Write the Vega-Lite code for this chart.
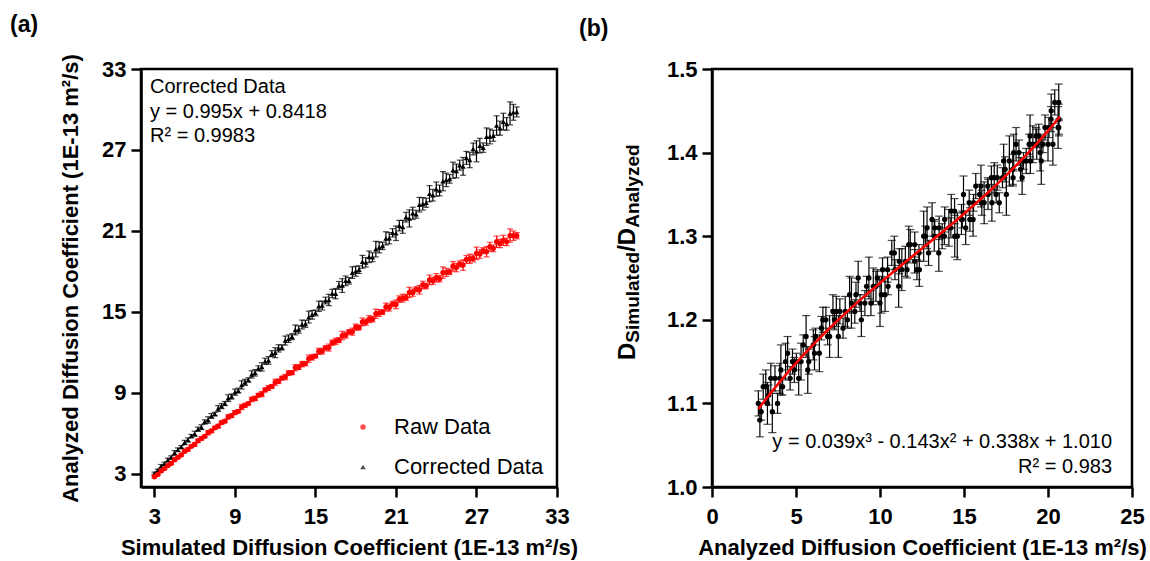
{
"$schema": "https://vega.github.io/schema/vega-lite/v6.json",
"background": "white",
"padding": {"left": 8, "top": 12, "right": 0, "bottom": 0},
"bounds": "flush",
"spacing": 155,
"config": {
  "font": "Liberation Sans",
  "view": {"stroke": "black", "strokeWidth": 2.5},
  "axis": {"domainColor": "black", "domainWidth": 2.5, "tickColor": "black", "tickWidth": 2.5, "tickSize": 10, "labelFont": "Liberation Sans", "labelFontSize": 22, "labelFontWeight": "bold", "labelColor": "black", "titleFont": "Liberation Sans", "titleFontSize": 22, "titleFontWeight": "bold", "titleColor": "black", "grid": false, "labelFlush": false, "labelOverlap": false},
  "axisX": {"labelPadding": 9, "titlePadding": 10},
  "axisY": {"labelPadding": 5, "titlePadding": 16},
  "legend": {"padding": 0}
},
"datasets": {
"a": [
{"s":3,"g":"Corrected Data","v":3.00,"e":0.10},{"s":3.25,"g":"Corrected Data","v":3.23,"e":0.09},{"s":3.5,"g":"Corrected Data","v":3.54,"e":0.13},{"s":3.75,"g":"Corrected Data","v":3.73,"e":0.11},{"s":4,"g":"Corrected Data","v":4.01,"e":0.13},{"s":4.25,"g":"Corrected Data","v":4.20,"e":0.11},{"s":4.5,"g":"Corrected Data","v":4.53,"e":0.17},{"s":4.75,"g":"Corrected Data","v":4.76,"e":0.14},{"s":5,"g":"Corrected Data","v":4.97,"e":0.10},{"s":5.25,"g":"Corrected Data","v":5.30,"e":0.16},
{"s":5.5,"g":"Corrected Data","v":5.49,"e":0.15},{"s":5.75,"g":"Corrected Data","v":5.78,"e":0.12},{"s":6,"g":"Corrected Data","v":5.95,"e":0.19},{"s":6.25,"g":"Corrected Data","v":6.29,"e":0.15},{"s":6.5,"g":"Corrected Data","v":6.44,"e":0.18},{"s":6.75,"g":"Corrected Data","v":6.83,"e":0.15},{"s":7,"g":"Corrected Data","v":6.97,"e":0.24},{"s":7.25,"g":"Corrected Data","v":7.27,"e":0.18},{"s":7.5,"g":"Corrected Data","v":7.41,"e":0.13},{"s":7.75,"g":"Corrected Data","v":7.82,"e":0.22},
{"s":8,"g":"Corrected Data","v":8.00,"e":0.19},{"s":8.25,"g":"Corrected Data","v":8.19,"e":0.15},{"s":8.5,"g":"Corrected Data","v":8.59,"e":0.25},{"s":8.75,"g":"Corrected Data","v":8.71,"e":0.19},{"s":9,"g":"Corrected Data","v":9.03,"e":0.23},{"s":9.25,"g":"Corrected Data","v":9.15,"e":0.18},{"s":9.5,"g":"Corrected Data","v":9.57,"e":0.31},{"s":9.75,"g":"Corrected Data","v":9.76,"e":0.23},{"s":10,"g":"Corrected Data","v":9.94,"e":0.16},{"s":10.25,"g":"Corrected Data","v":10.35,"e":0.27},
{"s":10.5,"g":"Corrected Data","v":10.47,"e":0.24},{"s":10.75,"g":"Corrected Data","v":10.80,"e":0.19},{"s":11,"g":"Corrected Data","v":10.91,"e":0.31},{"s":11.25,"g":"Corrected Data","v":11.32,"e":0.23},{"s":11.5,"g":"Corrected Data","v":11.39,"e":0.28},{"s":11.75,"g":"Corrected Data","v":11.89,"e":0.22},{"s":12,"g":"Corrected Data","v":11.96,"e":0.37},{"s":12.25,"g":"Corrected Data","v":12.28,"e":0.27},{"s":12.5,"g":"Corrected Data","v":12.35,"e":0.19},{"s":12.75,"g":"Corrected Data","v":12.86,"e":0.33},
{"s":13,"g":"Corrected Data","v":13.00,"e":0.28},{"s":13.25,"g":"Corrected Data","v":13.15,"e":0.22},{"s":13.5,"g":"Corrected Data","v":13.65,"e":0.37},{"s":13.75,"g":"Corrected Data","v":13.68,"e":0.27},{"s":14,"g":"Corrected Data","v":14.05,"e":0.33},{"s":14.25,"g":"Corrected Data","v":14.10,"e":0.26},{"s":14.5,"g":"Corrected Data","v":14.60,"e":0.44},{"s":14.75,"g":"Corrected Data","v":14.77,"e":0.32},{"s":15,"g":"Corrected Data","v":14.91,"e":0.21},{"s":15.25,"g":"Corrected Data","v":15.40,"e":0.38},
{"s":15.5,"g":"Corrected Data","v":15.46,"e":0.33},{"s":15.75,"g":"Corrected Data","v":15.83,"e":0.25},{"s":16,"g":"Corrected Data","v":15.87,"e":0.42},{"s":16.25,"g":"Corrected Data","v":16.35,"e":0.31},{"s":16.5,"g":"Corrected Data","v":16.34,"e":0.38},{"s":16.75,"g":"Corrected Data","v":16.95,"e":0.29},{"s":17,"g":"Corrected Data","v":16.94,"e":0.51},{"s":17.25,"g":"Corrected Data","v":17.29,"e":0.36},{"s":17.5,"g":"Corrected Data","v":17.29,"e":0.24},{"s":17.75,"g":"Corrected Data","v":17.90,"e":0.43},
{"s":18,"g":"Corrected Data","v":18.00,"e":0.37},{"s":18.25,"g":"Corrected Data","v":18.12,"e":0.28},{"s":18.5,"g":"Corrected Data","v":18.70,"e":0.48},{"s":18.75,"g":"Corrected Data","v":18.66,"e":0.35},{"s":19,"g":"Corrected Data","v":19.07,"e":0.43},{"s":19.25,"g":"Corrected Data","v":19.04,"e":0.33},{"s":19.5,"g":"Corrected Data","v":19.64,"e":0.58},{"s":19.75,"g":"Corrected Data","v":19.77,"e":0.41},{"s":20,"g":"Corrected Data","v":19.88,"e":0.27},{"s":20.25,"g":"Corrected Data","v":20.44,"e":0.49},
{"s":20.5,"g":"Corrected Data","v":20.45,"e":0.42},{"s":20.75,"g":"Corrected Data","v":20.85,"e":0.31},{"s":21,"g":"Corrected Data","v":20.82,"e":0.54},{"s":21.25,"g":"Corrected Data","v":21.38,"e":0.39},{"s":21.5,"g":"Corrected Data","v":21.29,"e":0.48},{"s":21.75,"g":"Corrected Data","v":22.01,"e":0.36},{"s":22,"g":"Corrected Data","v":21.92,"e":0.64},{"s":22.25,"g":"Corrected Data","v":22.30,"e":0.45},{"s":22.5,"g":"Corrected Data","v":22.23,"e":0.29},{"s":22.75,"g":"Corrected Data","v":22.94,"e":0.54},
{"s":23,"g":"Corrected Data","v":23.00,"e":0.46},{"s":23.25,"g":"Corrected Data","v":23.08,"e":0.34},{"s":23.5,"g":"Corrected Data","v":23.75,"e":0.60},{"s":23.75,"g":"Corrected Data","v":23.64,"e":0.43},{"s":24,"g":"Corrected Data","v":24.09,"e":0.53},{"s":24.25,"g":"Corrected Data","v":23.99,"e":0.40},{"s":24.5,"g":"Corrected Data","v":24.68,"e":0.71},{"s":24.75,"g":"Corrected Data","v":24.78,"e":0.50},{"s":25,"g":"Corrected Data","v":24.85,"e":0.32},{"s":25.25,"g":"Corrected Data","v":25.49,"e":0.60},
{"s":25.5,"g":"Corrected Data","v":25.44,"e":0.51},{"s":25.75,"g":"Corrected Data","v":25.87,"e":0.37},{"s":26,"g":"Corrected Data","v":25.78,"e":0.66},{"s":26.25,"g":"Corrected Data","v":26.41,"e":0.48},{"s":26.5,"g":"Corrected Data","v":26.25,"e":0.57},{"s":26.75,"g":"Corrected Data","v":27.07,"e":0.44},{"s":27,"g":"Corrected Data","v":26.90,"e":0.78},{"s":27.25,"g":"Corrected Data","v":27.32,"e":0.54},{"s":27.5,"g":"Corrected Data","v":27.17,"e":0.35},{"s":27.75,"g":"Corrected Data","v":27.98,"e":0.65},
{"s":28,"g":"Corrected Data","v":28.00,"e":0.55},{"s":28.25,"g":"Corrected Data","v":28.05,"e":0.41},{"s":28.5,"g":"Corrected Data","v":28.81,"e":0.72},{"s":28.75,"g":"Corrected Data","v":28.61,"e":0.52},{"s":29,"g":"Corrected Data","v":29.10,"e":0.62},{"s":29.25,"g":"Corrected Data","v":28.93,"e":0.47},{"s":29.5,"g":"Corrected Data","v":29.71,"e":0.85},{"s":29.75,"g":"Corrected Data","v":29.79,"e":0.59},{"s":30,"g":"Corrected Data","v":29.82,"e":0.37},
{"s":3,"g":"Raw Data","v":2.76,"e":0.08},{"s":3.25,"g":"Raw Data","v":2.93,"e":0.07},{"s":3.5,"g":"Raw Data","v":3.20,"e":0.10},{"s":3.75,"g":"Raw Data","v":3.37,"e":0.08},{"s":4,"g":"Raw Data","v":3.59,"e":0.09},{"s":4.25,"g":"Raw Data","v":3.75,"e":0.08},{"s":4.5,"g":"Raw Data","v":4.03,"e":0.12},{"s":4.75,"g":"Raw Data","v":4.20,"e":0.10},{"s":5,"g":"Raw Data","v":4.38,"e":0.08},{"s":5.25,"g":"Raw Data","v":4.65,"e":0.11},
{"s":5.5,"g":"Raw Data","v":4.79,"e":0.11},{"s":5.75,"g":"Raw Data","v":5.02,"e":0.09},{"s":6,"g":"Raw Data","v":5.16,"e":0.13},{"s":6.25,"g":"Raw Data","v":5.43,"e":0.11},{"s":6.5,"g":"Raw Data","v":5.60,"e":0.12},{"s":6.75,"g":"Raw Data","v":5.76,"e":0.10},{"s":7,"g":"Raw Data","v":6.03,"e":0.16},{"s":7.25,"g":"Raw Data","v":6.16,"e":0.12},{"s":7.5,"g":"Raw Data","v":6.39,"e":0.10},{"s":7.75,"g":"Raw Data","v":6.51,"e":0.14},
{"s":8,"g":"Raw Data","v":6.78,"e":0.13},{"s":8.25,"g":"Raw Data","v":6.88,"e":0.11},{"s":8.5,"g":"Raw Data","v":7.20,"e":0.16},{"s":8.75,"g":"Raw Data","v":7.29,"e":0.13},{"s":9,"g":"Raw Data","v":7.52,"e":0.15},{"s":9.25,"g":"Raw Data","v":7.61,"e":0.12},{"s":9.5,"g":"Raw Data","v":7.93,"e":0.19},{"s":9.75,"g":"Raw Data","v":8.06,"e":0.15},{"s":10,"g":"Raw Data","v":8.19,"e":0.11},{"s":10.25,"g":"Raw Data","v":8.50,"e":0.17},
{"s":10.5,"g":"Raw Data","v":8.57,"e":0.16},{"s":10.75,"g":"Raw Data","v":8.81,"e":0.13},{"s":11,"g":"Raw Data","v":8.89,"e":0.19},{"s":11.25,"g":"Raw Data","v":9.20,"e":0.15},{"s":11.5,"g":"Raw Data","v":9.34,"e":0.18},{"s":11.75,"g":"Raw Data","v":9.46,"e":0.14},{"s":12,"g":"Raw Data","v":9.76,"e":0.23},{"s":12.25,"g":"Raw Data","v":9.84,"e":0.17},{"s":12.5,"g":"Raw Data","v":10.08,"e":0.13},{"s":12.75,"g":"Raw Data","v":10.15,"e":0.20},
{"s":13,"g":"Raw Data","v":10.45,"e":0.18},{"s":13.25,"g":"Raw Data","v":10.48,"e":0.14},{"s":13.5,"g":"Raw Data","v":10.85,"e":0.23},{"s":13.75,"g":"Raw Data","v":10.89,"e":0.17},{"s":14,"g":"Raw Data","v":11.11,"e":0.20},{"s":14.25,"g":"Raw Data","v":11.15,"e":0.16},{"s":14.5,"g":"Raw Data","v":11.51,"e":0.27},{"s":14.75,"g":"Raw Data","v":11.61,"e":0.20},{"s":15,"g":"Raw Data","v":11.71,"e":0.14},{"s":15.25,"g":"Raw Data","v":12.06,"e":0.23},
{"s":15.5,"g":"Raw Data","v":12.07,"e":0.21},{"s":15.75,"g":"Raw Data","v":12.32,"e":0.16},{"s":16,"g":"Raw Data","v":12.34,"e":0.26},{"s":16.25,"g":"Raw Data","v":12.70,"e":0.20},{"s":16.5,"g":"Raw Data","v":12.80,"e":0.23},{"s":16.75,"g":"Raw Data","v":12.89,"e":0.18},{"s":17,"g":"Raw Data","v":13.23,"e":0.31},{"s":17.25,"g":"Raw Data","v":13.26,"e":0.22},{"s":17.5,"g":"Raw Data","v":13.50,"e":0.16},{"s":17.75,"g":"Raw Data","v":13.52,"e":0.26},
{"s":18,"g":"Raw Data","v":13.85,"e":0.23},{"s":18.25,"g":"Raw Data","v":13.83,"e":0.18},{"s":18.5,"g":"Raw Data","v":14.24,"e":0.29},{"s":18.75,"g":"Raw Data","v":14.22,"e":0.22},{"s":19,"g":"Raw Data","v":14.45,"e":0.26},{"s":19.25,"g":"Raw Data","v":14.44,"e":0.20},{"s":19.5,"g":"Raw Data","v":14.85,"e":0.34},{"s":19.75,"g":"Raw Data","v":14.90,"e":0.25},{"s":20,"g":"Raw Data","v":14.97,"e":0.17},{"s":20.25,"g":"Raw Data","v":15.35,"e":0.29},
{"s":20.5,"g":"Raw Data","v":15.31,"e":0.26},{"s":20.75,"g":"Raw Data","v":15.57,"e":0.20},{"s":21,"g":"Raw Data","v":15.54,"e":0.32},{"s":21.25,"g":"Raw Data","v":15.93,"e":0.24},{"s":21.5,"g":"Raw Data","v":16.01,"e":0.29},{"s":21.75,"g":"Raw Data","v":16.06,"e":0.22},{"s":22,"g":"Raw Data","v":16.43,"e":0.38},{"s":22.25,"g":"Raw Data","v":16.41,"e":0.27},{"s":22.5,"g":"Raw Data","v":16.66,"e":0.19},{"s":22.75,"g":"Raw Data","v":16.63,"e":0.32},
{"s":23,"g":"Raw Data","v":16.98,"e":0.28},{"s":23.25,"g":"Raw Data","v":16.91,"e":0.21},{"s":23.5,"g":"Raw Data","v":17.36,"e":0.36},{"s":23.75,"g":"Raw Data","v":17.29,"e":0.26},{"s":24,"g":"Raw Data","v":17.52,"e":0.31},{"s":24.25,"g":"Raw Data","v":17.45,"e":0.24},{"s":24.5,"g":"Raw Data","v":17.90,"e":0.42},{"s":24.75,"g":"Raw Data","v":17.92,"e":0.30},{"s":25,"g":"Raw Data","v":17.96,"e":0.20},{"s":25.25,"g":"Raw Data","v":18.37,"e":0.35},
{"s":25.5,"g":"Raw Data","v":18.27,"e":0.31},{"s":25.75,"g":"Raw Data","v":18.54,"e":0.23},{"s":26,"g":"Raw Data","v":18.46,"e":0.39},{"s":26.25,"g":"Raw Data","v":18.88,"e":0.29},{"s":26.5,"g":"Raw Data","v":18.93,"e":0.34},{"s":26.75,"g":"Raw Data","v":18.95,"e":0.26},{"s":27,"g":"Raw Data","v":19.33,"e":0.46},{"s":27.25,"g":"Raw Data","v":19.28,"e":0.32},{"s":27.5,"g":"Raw Data","v":19.53,"e":0.22},{"s":27.75,"g":"Raw Data","v":19.45,"e":0.38},
{"s":28,"g":"Raw Data","v":19.82,"e":0.33},{"s":28.25,"g":"Raw Data","v":19.70,"e":0.25},{"s":28.5,"g":"Raw Data","v":20.19,"e":0.42},{"s":28.75,"g":"Raw Data","v":20.06,"e":0.31},{"s":29,"g":"Raw Data","v":20.29,"e":0.37},{"s":29.25,"g":"Raw Data","v":20.18,"e":0.28},{"s":29.5,"g":"Raw Data","v":20.65,"e":0.49},{"s":29.75,"g":"Raw Data","v":20.64,"e":0.35},{"s":30,"g":"Raw Data","v":20.64,"e":0.23}
],
"b": [
{"r":2.76,"q":1.10,"e":0.015},{"r":2.93,"q":1.09,"e":0.01},{"r":3.20,"q":1.12,"e":0.02},{"r":3.37,"q":1.11,"e":0.012},{"r":3.59,"q":1.09,"e":0.025},{"r":3.75,"q":1.13,"e":0.015},{"r":4.03,"q":1.13,"e":0.018},{"r":4.20,"q":1.12,"e":0.01},{"r":4.38,"q":1.15,"e":0.022},{"r":4.65,"q":1.13,"e":0.014},
{"r":4.79,"q":1.15,"e":0.015},{"r":5.02,"q":1.15,"e":0.01},{"r":5.16,"q":1.13,"e":0.02},{"r":5.43,"q":1.17,"e":0.012},{"r":5.60,"q":1.18,"e":0.025},{"r":5.76,"q":1.15,"e":0.015},{"r":6.03,"q":1.17,"e":0.018},{"r":6.16,"q":1.18,"e":0.01},{"r":6.39,"q":1.16,"e":0.022},{"r":6.51,"q":1.19,"e":0.014},
{"r":6.78,"q":1.20,"e":0.015},{"r":6.88,"q":1.18,"e":0.01},{"r":7.20,"q":1.21,"e":0.02},{"r":7.29,"q":1.20,"e":0.012},{"r":7.52,"q":1.18,"e":0.025},{"r":7.61,"q":1.21,"e":0.015},{"r":7.93,"q":1.21,"e":0.018},{"r":8.06,"q":1.20,"e":0.01},{"r":8.19,"q":1.23,"e":0.022},{"r":8.50,"q":1.21,"e":0.014},
{"r":8.57,"q":1.23,"e":0.015},{"r":8.81,"q":1.22,"e":0.01},{"r":8.89,"q":1.20,"e":0.02},{"r":9.20,"q":1.24,"e":0.012},{"r":9.34,"q":1.25,"e":0.025},{"r":9.46,"q":1.22,"e":0.015},{"r":9.76,"q":1.24,"e":0.018},{"r":9.84,"q":1.25,"e":0.01},{"r":10.08,"q":1.23,"e":0.022},{"r":10.15,"q":1.26,"e":0.014},
{"r":10.45,"q":1.26,"e":0.015},{"r":10.48,"q":1.24,"e":0.01},{"r":10.85,"q":1.28,"e":0.02},{"r":10.89,"q":1.26,"e":0.012},{"r":11.11,"q":1.24,"e":0.025},{"r":11.15,"q":1.27,"e":0.015},{"r":11.51,"q":1.27,"e":0.018},{"r":11.61,"q":1.26,"e":0.01},{"r":11.71,"q":1.29,"e":0.022},{"r":12.06,"q":1.27,"e":0.014},
{"r":12.07,"q":1.29,"e":0.015},{"r":12.32,"q":1.28,"e":0.01},{"r":12.34,"q":1.26,"e":0.02},{"r":12.70,"q":1.30,"e":0.012},{"r":12.80,"q":1.31,"e":0.025},{"r":12.89,"q":1.28,"e":0.015},{"r":13.23,"q":1.30,"e":0.018},{"r":13.26,"q":1.31,"e":0.01},{"r":13.50,"q":1.28,"e":0.022},{"r":13.52,"q":1.31,"e":0.014},
{"r":13.85,"q":1.32,"e":0.015},{"r":13.83,"q":1.30,"e":0.01},{"r":14.24,"q":1.33,"e":0.02},{"r":14.22,"q":1.31,"e":0.012},{"r":14.45,"q":1.30,"e":0.025},{"r":14.44,"q":1.33,"e":0.015},{"r":14.85,"q":1.32,"e":0.018},{"r":14.90,"q":1.32,"e":0.01},{"r":14.97,"q":1.35,"e":0.022},{"r":15.35,"q":1.32,"e":0.014},
{"r":15.31,"q":1.34,"e":0.015},{"r":15.57,"q":1.34,"e":0.01},{"r":15.54,"q":1.32,"e":0.02},{"r":15.93,"q":1.35,"e":0.012},{"r":16.01,"q":1.36,"e":0.025},{"r":16.06,"q":1.34,"e":0.015},{"r":16.43,"q":1.35,"e":0.018},{"r":16.41,"q":1.36,"e":0.01},{"r":16.66,"q":1.34,"e":0.022},{"r":16.63,"q":1.37,"e":0.014},
{"r":16.98,"q":1.37,"e":0.015},{"r":16.91,"q":1.35,"e":0.01},{"r":17.36,"q":1.39,"e":0.02},{"r":17.29,"q":1.37,"e":0.012},{"r":17.52,"q":1.35,"e":0.025},{"r":17.45,"q":1.38,"e":0.015},{"r":17.90,"q":1.38,"e":0.018},{"r":17.92,"q":1.37,"e":0.01},{"r":17.96,"q":1.40,"e":0.022},{"r":18.37,"q":1.38,"e":0.014},
{"r":18.27,"q":1.40,"e":0.015},{"r":18.54,"q":1.39,"e":0.01},{"r":18.46,"q":1.37,"e":0.02},{"r":18.88,"q":1.41,"e":0.012},{"r":18.93,"q":1.42,"e":0.025},{"r":18.95,"q":1.39,"e":0.015},{"r":19.33,"q":1.41,"e":0.018},{"r":19.28,"q":1.42,"e":0.01},{"r":19.53,"q":1.40,"e":0.022},{"r":19.45,"q":1.42,"e":0.014},
{"r":19.82,"q":1.43,"e":0.015},{"r":19.70,"q":1.41,"e":0.01},{"r":20.19,"q":1.45,"e":0.02},{"r":20.06,"q":1.43,"e":0.012},{"r":20.29,"q":1.41,"e":0.025},{"r":20.18,"q":1.44,"e":0.015},{"r":20.65,"q":1.44,"e":0.018},{"r":20.64,"q":1.43,"e":0.01},{"r":20.64,"q":1.46,"e":0.022},
{"r":2.85,"q":1.08,"e":0.02},{"r":3.05,"q":1.12,"e":0.015},{"r":3.30,"q":1.10,"e":0.025},{"r":3.50,"q":1.13,"e":0.018},{"r":3.90,"q":1.10,"e":0.012},{"r":4.10,"q":1.14,"e":0.03},{"r":4.50,"q":1.16,"e":0.02},{"r":4.90,"q":1.14,"e":0.015},{"r":5.30,"q":1.15,"e":0.022},{"r":5.70,"q":1.14,"e":0.028},
{"r":6.10,"q":1.16,"e":0.02},{"r":6.60,"q":1.20,"e":0.015},{"r":7.00,"q":1.18,"e":0.025},{"r":7.40,"q":1.21,"e":0.018},{"r":7.80,"q":1.19,"e":0.012},{"r":8.30,"q":1.22,"e":0.03},{"r":8.70,"q":1.25,"e":0.02},{"r":9.10,"q":1.22,"e":0.015},{"r":9.60,"q":1.24,"e":0.022},{"r":10.00,"q":1.22,"e":0.028},
{"r":10.30,"q":1.23,"e":0.02},{"r":10.70,"q":1.28,"e":0.015},{"r":11.30,"q":1.26,"e":0.025},{"r":11.80,"q":1.29,"e":0.018},{"r":12.20,"q":1.26,"e":0.012},{"r":12.60,"q":1.30,"e":0.03},{"r":13.10,"q":1.32,"e":0.02},{"r":13.70,"q":1.30,"e":0.015},{"r":14.10,"q":1.31,"e":0.022},{"r":14.60,"q":1.30,"e":0.028},
{"r":15.10,"q":1.31,"e":0.02},{"r":15.70,"q":1.36,"e":0.015},{"r":16.20,"q":1.34,"e":0.025},{"r":16.80,"q":1.37,"e":0.018},{"r":17.10,"q":1.34,"e":0.012},{"r":17.70,"q":1.39,"e":0.03},{"r":18.10,"q":1.41,"e":0.02},{"r":18.70,"q":1.39,"e":0.015},{"r":19.10,"q":1.41,"e":0.022},{"r":19.60,"q":1.39,"e":0.028},
{"r":20.00,"q":1.41,"e":0.02},{"r":20.40,"q":1.46,"e":0.015},{"r":20.60,"q":1.43,"e":0.025}
],
"fit": [
{"x":2.76,"y":1.0932},{"x":3,"y":1.0996},{"x":4,"y":1.1248},{"x":5,"y":1.1481},{"x":6,"y":1.1697},{"x":7,"y":1.1899},{"x":8,"y":1.2089},{"x":9,"y":1.2268},{"x":10,"y":1.244},{"x":11,"y":1.2607},{"x":12,"y":1.2771},{"x":13,"y":1.2934},{"x":14,"y":1.3099},{"x":15,"y":1.3269},{"x":16,"y":1.3445},{"x":17,"y":1.3629},{"x":18,"y":1.3825},{"x":19,"y":1.4035},{"x":20,"y":1.426},{"x":20.7,"y":1.4428}
]
},
"hconcat": [
{
  "width": 416, "height": 418,
  "title": {"text": "(a)", "anchor": "start", "frame": "group", "dx": -131, "offset": 17, "fontSize": 23, "fontWeight": "bold", "font": "Liberation Sans", "color": "black"},
  "layer": [
    {"data": {"name": "a"},
     "mark": {"type": "errorbar", "ticks": {"size": 6}, "thickness": 1.2},
     "encoding": {
       "x": {"field": "s", "type": "quantitative", "title": "Simulated Diffusion Coefficient (1E-13 m²/s)", "scale": {"domain": [2, 33], "nice": false, "zero": false}, "axis": {"values": [3, 9, 15, 21, 27, 33]}},
       "y": {"field": "v", "type": "quantitative", "title": "Analyzed Diffusion Coefficient (1E-13 m²/s)", "scale": {"domain": [2, 33], "nice": false, "zero": false}, "axis": {"values": [3, 9, 15, 21, 27, 33], "titlePadding": 19}},
       "yError": {"field": "e"},
       "color": {"field": "g", "type": "nominal", "scale": {"domain": ["Raw Data", "Corrected Data"], "range": ["#ff0000", "#000000"]}}
     }},
    {"data": {"name": "a"},
     "mark": {"type": "point", "filled": true, "size": 28, "opacity": 1},
     "encoding": {
       "x": {"field": "s", "type": "quantitative", "title": "Simulated Diffusion Coefficient (1E-13 m²/s)"},
       "y": {"field": "v", "type": "quantitative", "title": "Analyzed Diffusion Coefficient (1E-13 m²/s)"},
       "color": {"field": "g", "type": "nominal", "scale": {"domain": ["Raw Data", "Corrected Data"], "range": ["#ff0000", "#000000"]},
                 "legend": {"title": null, "orient": "none", "legendX": 211, "legendY": 347, "labelFontSize": 22, "labelFont": "Liberation Sans", "labelColor": "black", "symbolSize": 30, "symbolOpacity": 1, "rowPadding": 18, "labelOffset": 20, "symbolStrokeWidth": 0}},
       "shape": {"field": "g", "type": "nominal", "scale": {"domain": ["Raw Data", "Corrected Data"], "range": ["circle", "triangle-up"]},
                 "legend": {"title": null, "orient": "none", "legendX": 211, "legendY": 347, "labelFontSize": 22, "labelFont": "Liberation Sans", "labelColor": "black", "symbolSize": 30, "symbolOpacity": 1, "rowPadding": 18, "labelOffset": 20, "symbolStrokeWidth": 0}}
     }},
    {"data": {"values": [{}]},
     "mark": {"type": "text", "text": ["Corrected Data", "y = 0.995x + 0.8418", "R² = 0.9983"], "align": "left", "baseline": "alphabetic", "font": "Liberation Sans", "fontSize": 20, "lineHeight": 24.5, "color": "black"},
     "encoding": {"x": {"datum": 2.67, "type": "quantitative"}, "y": {"datum": 31.22, "type": "quantitative"}}}
  ]
},
{
  "width": 420, "height": 418,
  "title": {"text": "(b)", "anchor": "start", "frame": "group", "dx": -133, "offset": 17, "fontSize": 23, "fontWeight": "bold", "font": "Liberation Sans", "color": "black"},
  "layer": [
    {"data": {"name": "b"},
     "mark": {"type": "errorbar", "ticks": {"size": 8}, "thickness": 1.2, "color": "black"},
     "encoding": {
       "x": {"field": "r", "type": "quantitative", "title": "Analyzed Diffusion Coefficient (1E-13 m²/s)", "scale": {"domain": [0, 25], "nice": false, "zero": false}, "axis": {"values": [0, 5, 10, 15, 20, 25]}},
       "y": {"field": "q", "type": "quantitative", "title": null, "scale": {"domain": [1.0, 1.5], "nice": false, "zero": false}, "axis": {"values": [1.0, 1.1, 1.2, 1.3, 1.4, 1.5], "format": ".1f"}},
       "yError": {"field": "e"}
     }},
    {"data": {"name": "b"},
     "mark": {"type": "point", "filled": true, "size": 28, "opacity": 1, "color": "black", "shape": "circle"},
     "encoding": {
       "x": {"field": "r", "type": "quantitative", "title": "Analyzed Diffusion Coefficient (1E-13 m²/s)"},
       "y": {"field": "q", "type": "quantitative", "title": null}
     }},
    {"data": {"name": "fit"},
     "mark": {"type": "line", "color": "#ff0000", "strokeWidth": 2.5, "interpolate": "monotone"},
     "encoding": {
       "x": {"field": "x", "type": "quantitative", "title": "Analyzed Diffusion Coefficient (1E-13 m²/s)"},
       "y": {"field": "y", "type": "quantitative", "title": null}
     }},
    {"data": {"values": [{}]},
     "mark": {"type": "text", "text": ["y = 0.039x³ - 0.143x² + 0.338x + 1.010", "R² = 0.983"], "align": "right", "baseline": "alphabetic", "font": "Liberation Sans", "fontSize": 20, "lineHeight": 25, "color": "black"},
     "encoding": {"x": {"datum": 23.81, "type": "quantitative"}, "y": {"datum": 1.0467, "type": "quantitative"}}},
    {"data": {"values": [{}]},
     "mark": {"type": "text", "text": "D", "angle": 270, "align": "left", "baseline": "alphabetic", "font": "Liberation Sans", "fontWeight": "bold", "fontSize": 24, "color": "black"},
     "encoding": {"x": {"datum": -4.583, "type": "quantitative"}, "y": {"datum": 1.1519, "type": "quantitative"}}},
    {"data": {"values": [{}]},
     "mark": {"type": "text", "text": "Simulated", "angle": 270, "align": "left", "baseline": "alphabetic", "font": "Liberation Sans", "fontWeight": "bold", "fontSize": 19, "color": "black"},
     "encoding": {"x": {"datum": -4.375, "type": "quantitative"}, "y": {"datum": 1.1726, "type": "quantitative"}}},
    {"data": {"values": [{}]},
     "mark": {"type": "text", "text": "/D", "angle": 270, "align": "left", "baseline": "alphabetic", "font": "Liberation Sans", "fontWeight": "bold", "fontSize": 24, "color": "black"},
     "encoding": {"x": {"datum": -4.583, "type": "quantitative"}, "y": {"datum": 1.2813, "type": "quantitative"}}},
    {"data": {"values": [{}]},
     "mark": {"type": "text", "text": "Analyzed", "angle": 270, "align": "left", "baseline": "alphabetic", "font": "Liberation Sans", "fontWeight": "bold", "fontSize": 19, "color": "black"},
     "encoding": {"x": {"datum": -4.375, "type": "quantitative"}, "y": {"datum": 1.31, "type": "quantitative"}}}
  ]
}
]
}
